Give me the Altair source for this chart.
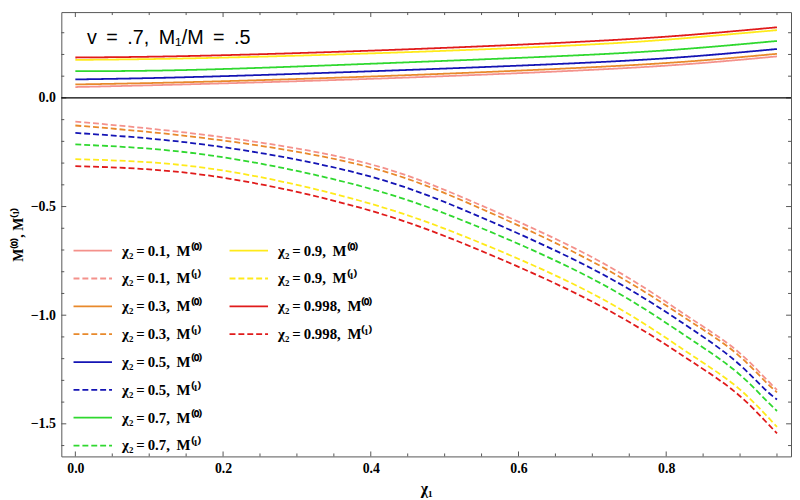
import altair as alt
import pandas as pd

# ---- data ----
chi2_values = ["0.1", "0.3", "0.5", "0.7", "0.9", "0.998"]
series_colors = ["#F4918B", "#E8892B", "#1414B4", "#2FD82F", "#FFEA1A", "#E01B1B"]

# M^(0): solid curves
x_m0 = [0.0, 0.169, 0.436, 0.704, 0.85, 0.95]
m0 = {
    "0.1":   [0.050, 0.064, 0.092, 0.130, 0.161, 0.191],
    "0.3":   [0.062, 0.074, 0.103, 0.142, 0.173, 0.203],
    "0.5":   [0.085, 0.097, 0.127, 0.164, 0.195, 0.225],
    "0.7":   [0.123, 0.130, 0.162, 0.200, 0.232, 0.262],
    "0.9":   [0.175, 0.183, 0.209, 0.247, 0.282, 0.312],
    "0.998": [0.186, 0.194, 0.222, 0.262, 0.295, 0.325],
}

# M^(1): dashed curves
x_m1 = [0.0, 0.182, 0.383, 0.536, 0.704, 0.824, 0.891, 0.931, 0.95]
m1 = {
    "0.1":   [-0.109, -0.173, -0.291, -0.475, -0.741, -0.994, -1.150, -1.279, -1.344],
    "0.3":   [-0.127, -0.188, -0.306, -0.490, -0.761, -1.009, -1.165, -1.294, -1.355],
    "0.5":   [-0.161, -0.218, -0.347, -0.530, -0.794, -1.040, -1.203, -1.332, -1.388],
    "0.7":   [-0.214, -0.264, -0.403, -0.580, -0.840, -1.090, -1.249, -1.377, -1.441],
    "0.9":   [-0.282, -0.325, -0.471, -0.650, -0.908, -1.160, -1.317, -1.445, -1.514],
    "0.998": [-0.314, -0.358, -0.503, -0.685, -0.945, -1.190, -1.347, -1.476, -1.544],
}

x_major = [0.0, 0.2, 0.4, 0.6, 0.8]
x_minor = [0.05, 0.1, 0.15, 0.25, 0.3, 0.35, 0.45, 0.5, 0.55, 0.65, 0.7, 0.75, 0.85, 0.9, 0.95]
y_major = [-1.5, -1.0, -0.5, 0.0]
y_minor = [-1.6, -1.4, -1.3, -1.2, -1.1, -0.9, -0.8, -0.7, -0.6, -0.4, -0.3, -0.2, -0.1, 0.1, 0.2, 0.3]

TS = " \u2009"  # slightly wider gap, as in the reference typesetting
title_text = f"v{TS}={TS}.7,{TS}M\u2081/M{TS}={TS}.5"

# ---- build table ----
def label(c, k):
    sup = "\u207d\u2070\u207e" if k == 0 else "\u207d\u00b9\u207e"
    return f"\u03c7\u2082\u2009=\u2009{c},\u2009 M{sup}"

rows = []
for c in chi2_values:
    for xv, yv in zip(x_m0, m0[c]):
        rows.append({"chi2": c, "label": label(c, 0), "x": xv, "y": yv})
    for xv, yv in zip(x_m1, m1[c]):
        rows.append({"chi2": c, "label": label(c, 1), "x": xv, "y": yv})
df = pd.DataFrame(rows)

W, H = 739, 450
SERIF = "Liberation Serif"
FRAME = "#555555"

xscale = alt.Scale(domain=[-0.019, 0.969], nice=False, zero=False)
yscale = alt.Scale(domain=[-1.65, 0.395], nice=False, zero=False)
xaxis = alt.Axis(values=x_major, format=".1f", ticks=False, domain=False, grid=False,
                 labelFont=SERIF, labelFontWeight="bold", labelFontSize=14, labelColor="black",
                 labelPadding=5, titleFont=SERIF, titleFontWeight="bold", titleFontSize=16,
                 titleColor="black", titlePadding=6)
yaxis = alt.Axis(values=y_major, format=".1f", ticks=False, domain=False, grid=False,
                 labelFont=SERIF, labelFontWeight="bold", labelFontSize=14, labelColor="black",
                 labelPadding=6, titleFont=SERIF, titleFontWeight="bold", titleFontSize=14,
                 titleColor="black", titlePadding=5)
x_enc = alt.X("x:Q", scale=xscale, axis=xaxis, title="\u03c7\u2081")
y_enc = alt.Y("y:Q", scale=yscale, axis=yaxis, title="M\u207d\u2070\u207e, M\u207d\u00b9\u207e")


def curve_layer(chis, lx):
    labs, cols, dashes = [], [], []
    for c in chis:
        col = series_colors[chi2_values.index(c)]
        labs += [label(c, 0), label(c, 1)]
        cols += [col, col]
        dashes += [[1, 0], [6, 3]]
    leg = alt.Legend(orient="none", legendX=lx, legendY=230.6, title=None,
                     symbolType="M-2,0L2,0", symbolSize=380, symbolStrokeWidth=1.8,
                     symbolOffset=9.75, labelOffset=18.7, labelFont=SERIF,
                     labelFontWeight="bold", labelFontSize=15, labelColor="black",
                     rowPadding=9.2, padding=0, labelLimit=0)
    sub = df[df["chi2"].isin(chis)]
    return alt.Chart(sub).mark_line(strokeWidth=1.8, interpolate="natural").encode(
        x=x_enc, y=y_enc,
        color=alt.Color("label:N", scale=alt.Scale(domain=labs, range=cols), legend=leg, sort=labs),
        strokeDash=alt.StrokeDash("label:N", scale=alt.Scale(domain=labs, range=dashes), legend=leg, sort=labs),
        detail="label:N",
    )


layerA = curve_layer(chi2_values[:4], 11.1)
layerB = curve_layer(chi2_values[4:], 169.1)

zero = alt.Chart(pd.DataFrame({"y": [0.0]})).mark_rule(color="black", strokeWidth=1.2).encode(y=y_enc)

xt_major = pd.DataFrame({"x": x_major})
xt_minor = pd.DataFrame({"x": x_minor})
yt_major = pd.DataFrame({"y": y_major})
yt_minor = pd.DataFrame({"y": y_minor})

def xticks(d, ln):
    b = alt.Chart(d).mark_rule(color=FRAME, strokeWidth=1).encode(x=x_enc, y=alt.value(H), y2=alt.value(H - ln))
    t = alt.Chart(d).mark_rule(color=FRAME, strokeWidth=1).encode(x=x_enc, y=alt.value(0), y2=alt.value(ln))
    return [b, t]

def yticks(d, ln):
    l = alt.Chart(d).mark_rule(color=FRAME, strokeWidth=1).encode(y=y_enc, x=alt.value(0), x2=alt.value(ln))
    r = alt.Chart(d).mark_rule(color=FRAME, strokeWidth=1).encode(y=y_enc, x=alt.value(W), x2=alt.value(W - ln))
    return [l, r]

ticks = xticks(xt_major, 5) + xticks(xt_minor, 3) + yticks(yt_major, 5) + yticks(yt_minor, 3)

title = alt.Chart(pd.DataFrame({"t": [title_text]})).mark_text(
    align="left", baseline="alphabetic", font="Liberation Sans", fontSize=20, color="black"
).encode(text="t:N", x=alt.value(26), y=alt.value(32))

chart = alt.layer(*ticks, zero, layerA, layerB, title).resolve_scale(
    color="independent", strokeDash="independent"
).properties(
    width=W, height=H, padding={"left": 3, "top": 0, "right": 0, "bottom": 0}
).configure_view(stroke=FRAME, strokeWidth=1)

chart.save("out.html", embed_options={"renderer": "svg", "actions": False})
